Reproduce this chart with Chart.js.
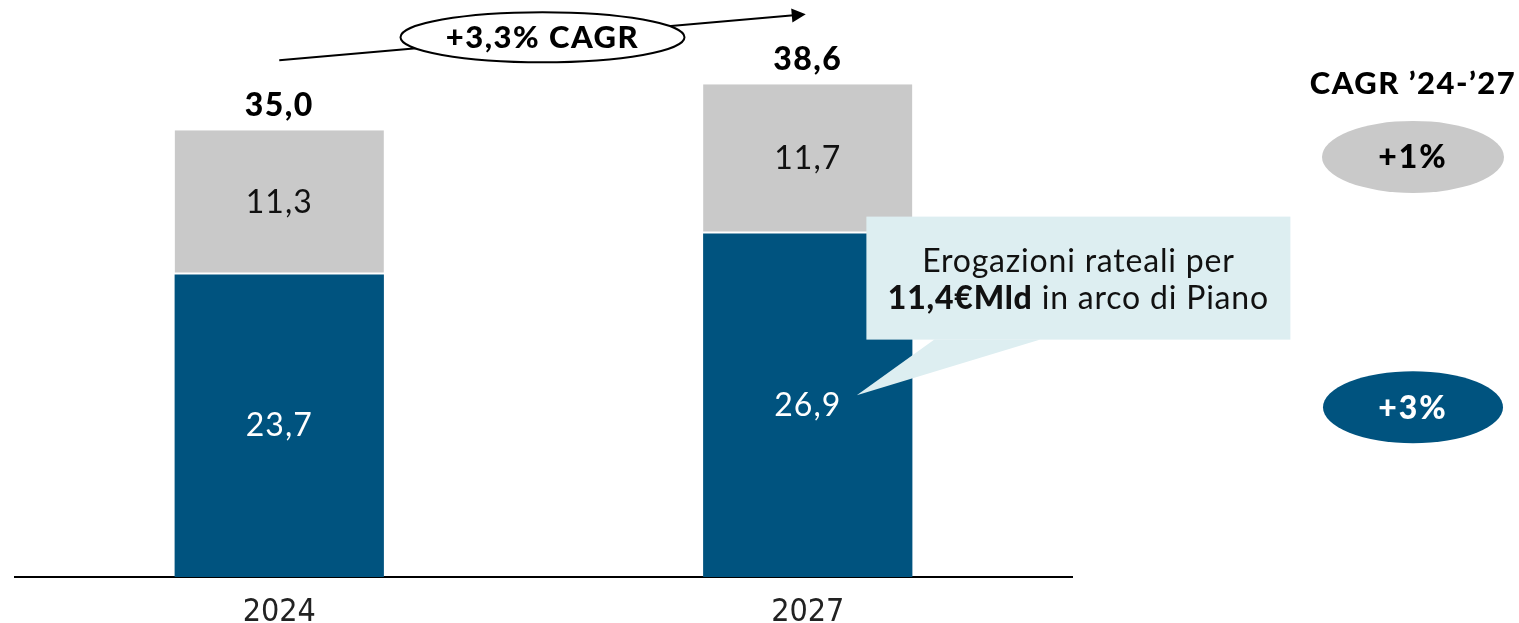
<!DOCTYPE html>
<html>
<head>
<meta charset="utf-8">
<script src="https://cdn.jsdelivr.net/npm/chart.js@4.4.1/dist/chart.umd.min.js"></script>
<style>
  html, body { margin: 0; padding: 0; background: #fff; }
  #wrap { width: 1519px; height: 623px; position: relative; }
</style>
</head>
<body>
<div id="wrap"><canvas id="myChart"></canvas></div>
<script>
// Stock values in €Mld, by year
var years = ['2024', '2027'];
var baseValues = [23.7, 26.9];   // navy segment
var topValues = [11.3, 11.7];    // grey segment
var totals = [35.0, 38.6];
var totalCagr = '+3,3% CAGR';
var cagrTitle = 'CAGR \u201924-\u201927';
var cagrTop = '+1%';
var cagrBase = '+3%';
var calloutLine1 = 'Erogazioni rateali per';
var calloutBold = '11,4\u20acMld';
var calloutRest = ' in arco di Piano';

var NAVY = '#00537f';
var GREY = '#c9c9c9';
var BOX = '#ddeef1';
var FONT = 'Lato, "Noto Sans", sans-serif';

function fmt(v) {
    return v.toFixed(1).replace('.', ',');
}

function ellipse(ctx, x, y, rx, ry, fill, stroke) {
    ctx.beginPath();
    ctx.ellipse(x, y, rx, ry, 0, 0, Math.PI * 2);
    if (fill) { ctx.fillStyle = fill; ctx.fill(); }
    if (stroke) { ctx.lineWidth = 2; ctx.strokeStyle = stroke; ctx.stroke(); }
}

function setFont(ctx, f, spacing) {
    ctx.font = f;
    ctx.letterSpacing = (spacing || 0) + 'px';
}

// Labels, arrow, CAGR bubbles and callout drawn on top of the bars
var overlay = {
    id: 'overlay',
    afterDatasetsDraw: function(chart) {
        var ctx = chart.ctx;
        var base = chart.getDatasetMeta(0).data;
        var top = chart.getDatasetMeta(1).data;
        ctx.save();
        ctx.textAlign = 'center';
        ctx.textBaseline = 'middle';

        // values inside segments
        setFont(ctx, '32px ' + FONT, 1);
        base.forEach(function(bar, i) {
            var c = bar.getCenterPoint();
            ctx.fillStyle = '#fff';
            ctx.fillText(fmt(baseValues[i]), c.x, c.y);
        });
        top.forEach(function(bar, i) {
            var c = bar.getCenterPoint();
            ctx.fillStyle = '#111';
            ctx.fillText(fmt(topValues[i]), c.x, c.y);
        });

        // totals above bars
        setFont(ctx, '900 32px ' + FONT, 1.5);
        ctx.fillStyle = '#000';
        top.forEach(function(bar, i) {
            ctx.fillText(fmt(totals[i]), bar.x, bar.y - 25);
        });

        // growth arrow between the two totals
        var x0 = top[0].x, y0 = top[0].y - 70;
        var x1 = top[1].x - 2, y1 = top[1].y - 70;
        var ang = Math.atan2(y1 - y0, x1 - x0);
        ctx.beginPath();
        ctx.moveTo(x0, y0);
        ctx.lineTo(x1 - 12 * Math.cos(ang), y1 - 12 * Math.sin(ang));
        ctx.lineWidth = 2;
        ctx.strokeStyle = '#000';
        ctx.stroke();
        ctx.beginPath();
        ctx.moveTo(x1, y1);
        ctx.lineTo(x1 - 14 * Math.cos(ang) + 7 * Math.sin(ang), y1 - 14 * Math.sin(ang) - 7 * Math.cos(ang));
        ctx.lineTo(x1 - 14 * Math.cos(ang) - 7 * Math.sin(ang), y1 - 14 * Math.sin(ang) + 7 * Math.cos(ang));
        ctx.closePath();
        ctx.fillStyle = '#000';
        ctx.fill();
        var mx = (x0 + x1) / 2, my = (y0 + y1) / 2;
        ellipse(ctx, mx, my, 142, 25, '#fff', '#000');
        setFont(ctx, '900 31px ' + FONT, 1.5);
        ctx.fillStyle = '#000';
        ctx.fillText(totalCagr, mx, my + 1);

        // CAGR column on the right
        var cx = 1413;
        setFont(ctx, '900 31px ' + FONT, 1.5);
        ctx.fillText(cagrTitle, cx, 84);
        var gy = top[1].getCenterPoint().y - 2;
        var ny = base[1].getCenterPoint().y + 2;
        ellipse(ctx, cx, gy, 91, 36, GREY);
        ellipse(ctx, cx, ny, 90, 36, NAVY);
        setFont(ctx, '900 32px ' + FONT, 2);
        ctx.fillStyle = '#000';
        ctx.fillText(cagrTop, cx, gy + 1);
        ctx.fillStyle = '#fff';
        ctx.fillText(cagrBase, cx, ny + 1);

        // callout pointing at the 2027 navy segment
        var b = base[1];
        var bx = b.x + b.width / 2 - 46;
        var by = b.y - 17;
        var bw = 424, bh = 123;
        var tip = b.getCenterPoint();
        ctx.fillStyle = BOX;
        ctx.fillRect(bx, by, bw, bh);
        ctx.beginPath();
        ctx.moveTo(bx + 68, by + bh);
        ctx.lineTo(tip.x + 49, tip.y - 10);
        ctx.lineTo(bx + 174, by + bh);
        ctx.closePath();
        ctx.fill();
        ctx.fillStyle = '#111';
        setFont(ctx, '32px ' + FONT, 0.8);
        ctx.fillText(calloutLine1, bx + bw / 2, by + 45);
        setFont(ctx, '900 32px ' + FONT, 0.8);
        var w1 = ctx.measureText(calloutBold).width;
        setFont(ctx, '32px ' + FONT, 0.8);
        var w2 = ctx.measureText(calloutRest).width;
        var sx = bx + bw / 2 - (w1 + w2) / 2;
        ctx.textAlign = 'left';
        setFont(ctx, '900 32px ' + FONT, 0.8);
        ctx.fillText(calloutBold, sx, by + 82);
        setFont(ctx, '32px ' + FONT, 0.8);
        ctx.fillText(calloutRest, sx + w1, by + 82);
        ctx.restore();
    }
};

var ctx = document.getElementById('myChart').getContext('2d');
var myChart = new Chart(ctx, {
    type: 'bar',
    data: {
        labels: years,
        datasets: [{
            data: baseValues,
            backgroundColor: NAVY,
            borderWidth: 0,
            categoryPercentage: 0.396,
            barPercentage: 1
        }, {
            data: topValues,
            backgroundColor: GREY,
            borderColor: '#fff',
            borderWidth: { top: 0, left: 0, right: 0, bottom: 2 },
            borderSkipped: false,
            categoryPercentage: 0.396,
            barPercentage: 1
        }]
    },
    plugins: [overlay],
    options: {
        responsive: true,
        maintainAspectRatio: false,
        animation: false,
        layout: { padding: { left: 15, right: 447, top: 0, bottom: 0 } },
        plugins: {
            legend: { display: false },
            tooltip: { enabled: false }
        },
        scales: {
            x: {
                stacked: true,
                afterFit: function(scale) { scale.height = 46; },
                grid: { display: false, drawTicks: false },
                border: { display: true, color: '#000', width: 2 },
                ticks: {
                    padding: 23,
                    color: '#222',
                    font: { family: '"Liberation Sans Narrow", "DejaVu Sans Condensed", sans-serif', size: 32, lineHeight: 0.8 }
                }
            },
            y: {
                stacked: true,
                display: false,
                min: 0,
                max: 45.2
            }
        }
    }
});
</script>
</body>
</html>
